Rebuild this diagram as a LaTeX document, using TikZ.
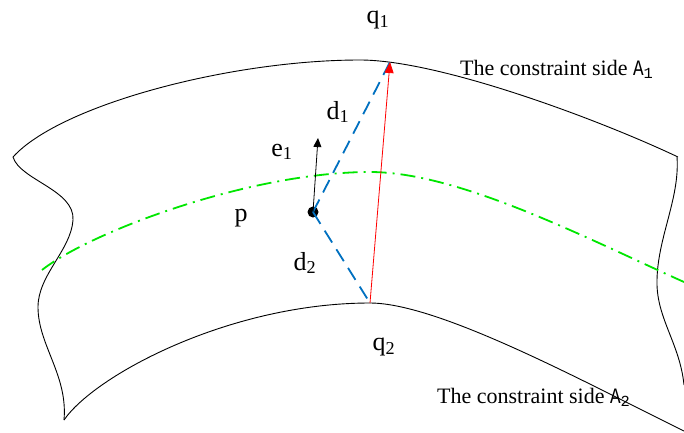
\documentclass[tikz,border=0pt]{standalone}
\usepackage{fontspec}
\setmainfont{Liberation Serif}
\newfontfamily\afont{Liberation Mono}
\usetikzlibrary{arrows.meta}
\definecolor{gline}{RGB}{0,230,0}
\definecolor{bline}{RGB}{0,112,192}
\newcommand{\sidename}[1]{{\afont\scalebox{0.8}[1]{A}\textsubscript{#1}}}
\begin{document}
\begin{tikzpicture}[x=1pt,y=-1pt,
  edge/.style={black, line width=0.9pt},
  guide/.style={gline, line width=1.8pt, dash pattern=on 15pt off 6pt on 2pt off 6pt},
  dist/.style={bline, line width=1.8pt, dash pattern=on 14pt off 8pt},
  lab/.style={font=\fontsize{26}{28}\selectfont, inner sep=0pt},
  side/.style={font=\fontsize{22}{24}\selectfont, inner sep=0pt, anchor=base west}]
\useasboundingbox (0,0) rectangle (684,432);
% boundaries
\draw[edge] (13,157) .. controls (60,105) and (230,60) .. (360,60)
                     .. controls (440,60) and (600,120) .. (678,157);
\draw[edge] (64,420) .. controls (95,375) and (230,303) .. (370,303)
                     .. controls (440,303) and (590,385) .. (684,431);
\draw[edge] (13,157) .. controls (20,180) and (75,190) .. (73,220)
                     .. controls (71,250) and (38,275) .. (38,307)
                     .. controls (38,345) and (68,375) .. (64,420);
\draw[edge] (677,157) .. controls (680,200) and (656,240) .. (657,285)
                      .. controls (658,320) and (680,345) .. (684,385);
% guide curve
\draw[guide] (42,270) .. controls (90,232) and (250,172) .. (370,172)
                      .. controls (460,172) and (590,240) .. (684,282);
% points
\coordinate (q1) at (390,62);
\coordinate (q2) at (370,303);
\coordinate (e1tip) at (318,138);
\node[circle, fill=black, inner sep=0pt, minimum size=11pt] (p) at (313,212) {};
\draw[dist] (p.center) -- (q1);
\draw[dist] (p.center) -- (q2);
\draw[red, line width=0.8pt, -{Triangle[length=11pt,width=9pt]}] (q2) -- (q1);
\draw[black, line width=0.8pt, -{Triangle[length=9pt,width=8pt]}] (p.center) -- (e1tip);
% labels
\node[lab] (lq1) at (378,20) {q\textsubscript{1}};
\node[lab] (lq2) at (384,347) {q\textsubscript{2}};
\node[lab] (ld1) at (338,112) {d\textsubscript{1}};
\node[lab] (ld2) at (305,263) {d\textsubscript{2}};
\node[lab] (le1) at (282,152) {e\textsubscript{1}};
\node[lab] (lp) at (241,218) {p};
\node[side] (sa1) at (460,75) {The constraint side \sidename{1}};
\node[side] (sa2) at (437,403) {The constraint side \sidename{2}};
\end{tikzpicture}
\end{document}
